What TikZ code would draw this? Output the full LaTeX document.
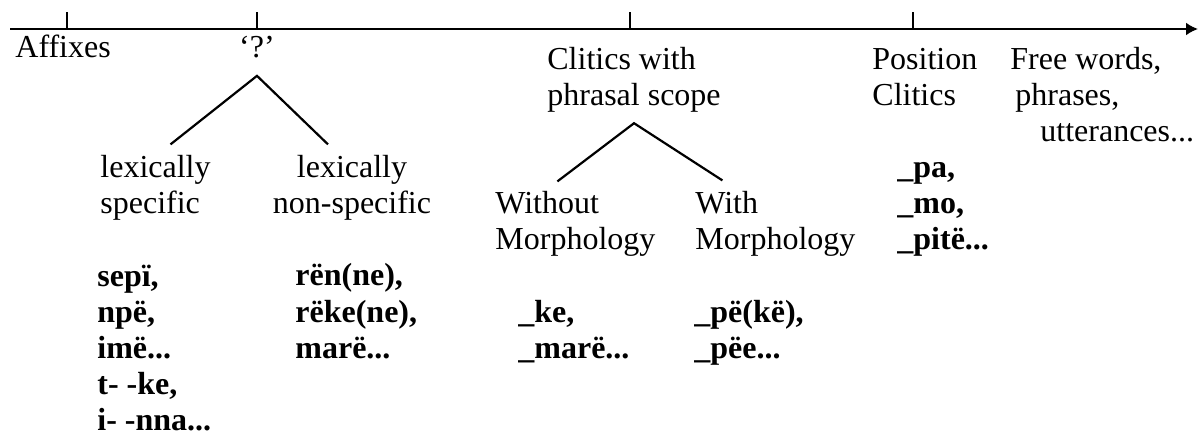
\documentclass[tikz,border=0pt]{standalone}
\usepackage{fontspec}
\setmainfont{Liberation Serif}
\usetikzlibrary{arrows.meta,positioning}

\begin{document}
\begin{tikzpicture}[x=0.5pt,y=-0.5pt,
    every node/.style={inner sep=0pt,align=left,font=\fontsize{16}{18}\selectfont},
    word/.style={anchor=base west},
    form/.style={anchor=base west,font=\fontsize{16}{18}\selectfont\bfseries},
    branch/.style={line width=1.1pt}]
  \useasboundingbox (0,0) rectangle (1200,438);
  % the scale
  \draw[-{Latex[length=6pt,width=6.5pt]},line width=1pt] (10,29) -- (1198,29);
  \foreach \x in {67,257,630,913}
    \draw[line width=1pt] (\x,29) -- (\x,12);
  % points on the scale (anchored on their last line)
  \node[word] (affix) at (15,58) {Affixes};
  \node[anchor=base] (quest) at (257,58) {‘?’};
  \node[word] (phrasal) at (547,106) {Clitics with\\phrasal scope};
  \node[word] (posit) at (872,106) {Position\\Clitics};
  \node[word] (free) at (1010,142) {Free words,\\\hspace{2.5pt}phrases,\\\hspace{15pt}utterances...};
  % subtypes
  \node[word] (lexspec) at (100,214) {lexically\\specific};
  \node[anchor=base,align=center] (nonspec) at (352,214) {lexically\\non-specific};
  \node[word] (without) at (495,250) {Without\\Morphology};
  \node[word] (withm) at (695,250) {With\\Morphology};
  % examples
  \node[form] (lexforms) at (97,430) {sepï,\\npë,\\imë...\\t- -ke,\\i- -nna...};
  \node[form] (nonforms) at (295,358) {rën(ne),\\rëke(ne),\\marë...};
  \node[form] (withoutforms) at (518,358) {\_ke,\\\_marë...};
  \node[form] (withforms) at (694,358) {\_pë(kë),\\\_pëe...};
  \node[form] (posforms) at (897,250) {\_pa,\\\_mo,\\\_pitë...};
  % branches
  \draw[branch] ([xshift=7.5pt,yshift=5.5pt]lexspec.north) -- ([yshift=-8.5pt]quest.south)
    -- ([xshift=-12pt,yshift=5.5pt]nonspec.north);
  \draw[branch] ([xshift=-9pt,yshift=5pt]without.north) -- ([yshift=-5pt]phrasal.south)
    -- ([xshift=-26.5pt,yshift=5.5pt]withm.north);
\end{tikzpicture}
\end{document}
